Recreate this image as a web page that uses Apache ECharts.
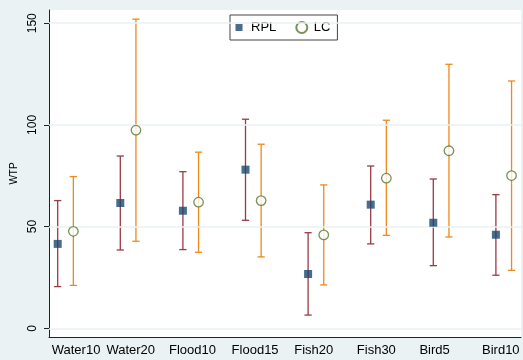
<!DOCTYPE html>
<html>
<head>
<meta charset="utf-8">
<style>
  html, body { margin: 0; padding: 0; background: #eaf2f3; }
  #chart { width: 523px; height: 360px; }
</style>
<script src="https://cdn.jsdelivr.net/npm/echarts@6/dist/echarts.min.js"></script>
</head>
<body>
<div id="chart"></div>
<script>
// Willingness-to-pay estimates with confidence intervals, RPL vs LC models
const categories = ['Water10', 'Water20', 'Flood10', 'Flood15', 'Fish20', 'Fish30', 'Bird5', 'Bird10'];
const rplMean = [41.5, 61.6, 57.8, 78.0, 26.7, 60.8, 51.9, 46.0];
const rplLow  = [20.5, 38.5, 38.7, 53.1, 6.5, 41.5, 30.8, 26.1];
const rplHigh = [62.8, 84.7, 77.0, 102.8, 47.0, 79.8, 73.4, 65.7];
const lcMean  = [47.7, 97.4, 62.0, 62.8, 45.9, 73.8, 87.3, 75.1];
const lcLow   = [21.1, 42.8, 37.4, 35.1, 21.3, 45.7, 44.9, 28.5];
const lcHigh  = [74.6, 152.0, 86.6, 90.5, 70.5, 102.3, 129.8, 121.6];
const yTicks  = [0, 50, 100, 150];

// Each model sits a little to either side of its category position
const SHIFT = 0.125;
const catPos = categories.map((c, i) => i + 1);

const FONT = '"Liberation Sans", Arial, sans-serif';
const NAVY = '#1a476f';
const MAROON = '#9a3a42';
const GREEN = '#55752f';
const ORANGE = '#ec8a1c';

function errorBars(color) {
  return function (params, api) {
    const x = api.value(0);
    const top = api.coord([x, api.value(2)]);
    const bot = api.coord([x, api.value(1)]);
    const half = 3.6;
    const style = { stroke: color, lineWidth: 1.3 };
    return {
      type: 'group',
      children: [
        { type: 'line', shape: { x1: top[0], y1: top[1], x2: bot[0], y2: bot[1] }, style },
        { type: 'line', shape: { x1: top[0] - half, y1: top[1], x2: top[0] + half, y2: top[1] }, style },
        { type: 'line', shape: { x1: bot[0] - half, y1: bot[1], x2: bot[0] + half, y2: bot[1] }, style }
      ]
    };
  };
}

const chart = echarts.init(document.getElementById('chart'), null, { renderer: 'canvas' });

chart.setOption({
  backgroundColor: '#eaf2f3',
  animation: false,
  textStyle: { fontFamily: FONT },
  grid: {
    left: 49, right: 2, top: 10, bottom: 23,
    show: true, backgroundColor: '#ffffff', borderWidth: 0
  },
  legend: {
    left: 230, top: 15,
    padding: [6, 7, 6, 2],
    backgroundColor: '#ffffff',
    borderColor: '#444444', borderWidth: 1,
    itemWidth: 14, itemHeight: 11, itemGap: 19,
    textStyle: { fontSize: 13, color: '#000', fontFamily: FONT },
    data: [
      { name: 'RPL', icon: 'path://M0,0M14,11M3.5,2L10.5,2L10.5,9L3.5,9Z' },
      { name: 'LC', icon: 'circle' }
    ]
  },
  xAxis: {
    type: 'value',
    min: 0.736, max: 8.276,
    splitLine: { show: false },
    axisLine: { show: true, onZero: false, lineStyle: { color: '#222', width: 1 } },
    axisTick: { show: false },
    axisLabel: {
      customValues: catPos,
      showMinLabel: true,
      hideOverlap: false,
      // first label is nudged right so it stays clear of the y axis
      formatter: v => {
        const name = categories[Math.round(v) - 1];
        return Math.round(v) === 1 ? '{first|' + name + '}' : name;
      },
      align: 'left',
      padding: [0, 0, 0, -21.7],
      margin: 7,
      fontSize: 13, color: '#000', fontFamily: FONT,
      rich: { first: { fontSize: 13, color: '#000', fontFamily: FONT, padding: [0, 0, 0, 7.9] } }
    }
  },
  yAxis: {
    type: 'value',
    min: -4.28, max: 156.5,
    name: 'WTP',
    nameLocation: 'middle',
    nameGap: 22,
    nameTextStyle: { fontSize: 10, color: '#000', fontFamily: FONT },
    splitLine: { show: false },
    axisLine: { show: true, onZero: false, lineStyle: { color: '#222', width: 1 } },
    axisTick: { show: true, length: 5, customValues: yTicks, lineStyle: { color: '#222', width: 1 } },
    axisLabel: {
      customValues: yTicks,
      rotate: 90,
      margin: 10,
      fontSize: 12, color: '#000', fontFamily: FONT
    }
  },
  series: [
    {
      name: 'RPL interval',
      type: 'custom',
      renderItem: errorBars(MAROON),
      encode: { x: 0, y: [1, 2] },
      data: catPos.map((p, i) => [p - SHIFT, rplLow[i], rplHigh[i]]),
      z: 3,
      markLine: {
        silent: true,
        symbol: 'none',
        label: { show: false },
        lineStyle: { color: '#eaf2f3', width: 1.5, type: 'solid' },
        data: yTicks.map(t => ({ yAxis: t }))
      }
    },
    {
      name: 'LC interval',
      type: 'custom',
      renderItem: errorBars(ORANGE),
      encode: { x: 0, y: [1, 2] },
      data: catPos.map((p, i) => [p + SHIFT, lcLow[i], lcHigh[i]]),
      z: 3
    },
    {
      name: 'RPL',
      type: 'scatter',
      symbol: 'rect',
      symbolSize: 8,
      itemStyle: { color: NAVY },
      data: catPos.map((p, i) => [p - SHIFT, rplMean[i]]),
      z: 5
    },
    {
      name: 'LC',
      type: 'scatter',
      symbol: 'circle',
      symbolSize: 9.5,
      itemStyle: { color: '#ffffff', borderColor: GREEN, borderWidth: 1.3 },
      data: catPos.map((p, i) => [p + SHIFT, lcMean[i]]),
      z: 5
    }
  ]
});
</script>
</body>
</html>
